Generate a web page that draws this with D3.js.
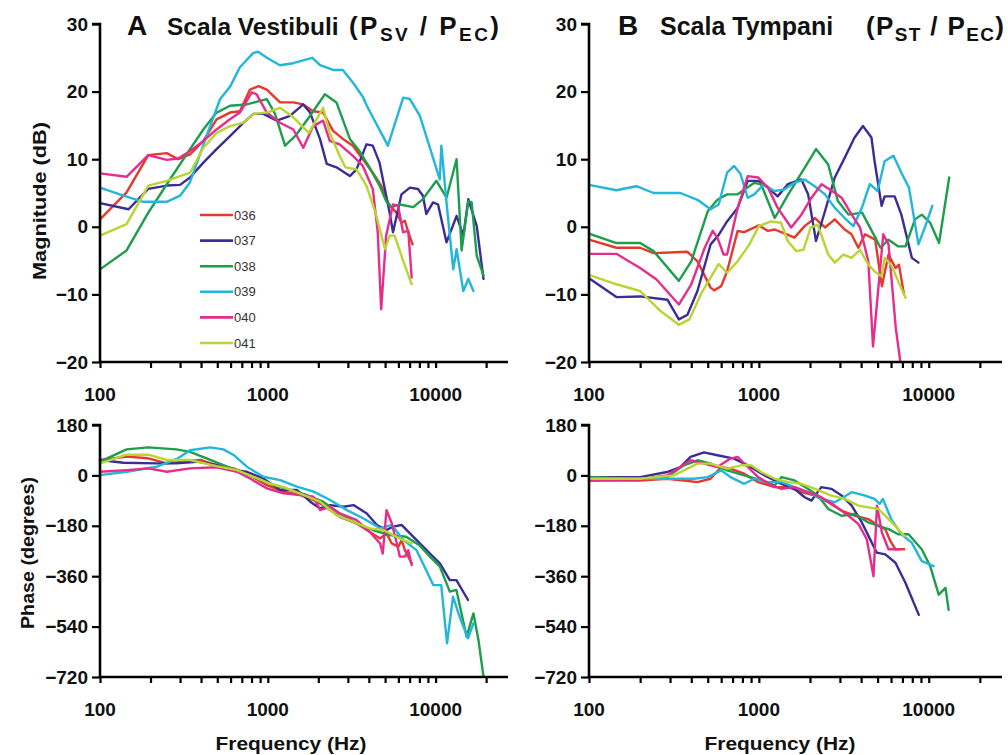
<!DOCTYPE html>
<html>
<head>
<meta charset="utf-8">
<script src="https://cdn.jsdelivr.net/npm/d3@7"></script>
<style>
  html, body { margin: 0; padding: 0; background: #fff; }
  svg { display: block; font-family: "Liberation Sans", Arial, Helvetica, sans-serif; }
</style>
</head>
<body>
<svg id="chart" width="1008" height="755"></svg>
<script>
// ---------------- DATA ----------------
const seriesIds = ["036", "037", "038", "039", "040", "041"];
const seriesColors = ["#e5392b", "#3b2d98", "#1d9e4c", "#22b6da", "#e52d8b", "#b9d433"];

const magTicks = [30, 20, 10, 0, -10, -20];
const phaseTicks = [180, 0, -180, -360, -540, -720];
const freqTickLabels = [100, 1000, 10000];
const freqMinorTicks = [200, 300, 400, 500, 600, 700, 800, 900, 2000, 3000, 4000, 5000, 6000, 7000, 8000, 9000, 20000];

// Panel A: Scala Vestibuli magnitude (dB)  [frequency Hz, value]
const svMag036 = [[100,1.1],[144,5.1],[194,10.6],[250,10.9],[293,10],[344,10.7],[413,12.7],[495,15.9],[595,16.9],[682,17.1],[783,20.3],[881,20.8],[986,20.3],[1183,18.4],[1420,18.4],[1626,18.1],[1864,17.1],[2136,16.9],[2450,14.2],[2806,13],[3215,12],[3685,10],[4222,8],[4738,6.1],[5195,3.6],[5443,2.9],[5836,2.1],[6260,0.6],[6560,0.9],[6873,-0.8],[7290,-2.6]];
const svMag037 = [[100,3.5],[148,2.6],[194,5.6],[250,6.1],[300,6.2],[344,7.3],[413,9.5],[495,11.5],[595,13.4],[717,15.4],[821,16.7],[942,16.7],[1131,15.7],[1355,16.4],[1626,18.1],[1785,16.9],[2045,13],[2245,9.3],[2565,8.8],[3083,7.5],[3377,8.5],[3870,12.2],[4222,12],[4630,9.5],[5318,2.1],[5574,-0.8],[6260,4.8],[7025,5.8],[7852,5.6],[8404,4.6],[8802,1.9],[9655,3.6],[10342,3.3],[11610,-2.3],[13335,1.6],[14623,-1.3],[15670,4.1],[17585,0.1],[19290,-7.7]];
const svMag038 = [[100,-6.3],[144,-3.5],[194,2.1],[261,7],[344,11.5],[413,14.4],[495,16.9],[595,17.9],[748,18.1],[986,18.9],[1104,16.7],[1267,12],[1454,13.4],[1785,16.4],[2189,19.6],[2565,18.4],[3083,13],[3515,11.2],[4035,8.8],[4630,6.1],[5074,3.8],[5443,2.9],[6117,3.3],[7360,2.9],[8404,4.1],[10113,6.8],[11610,4.3],[13335,10],[14290,-3.5],[15670,3.8],[16400,3.6],[17585,-4.3],[19290,-7.2]];
const svMag039 = [[100,5.8],[138,4.6],[181,3.7],[250,3.7],[300,4.6],[344,6.6],[432,13.5],[520,18.9],[595,20.7],[682,23.6],[817,25.7],[876,25.9],[987,25],[1180,23.9],[1415,24.2],[1840,25],[2050,23.9],[2450,23.2],[2800,23.2],[3220,21.3],[3690,19.2],[3890,17.9],[5195,12],[6410,19.1],[7025,18.9],[8060,16.4],[10590,7],[10820,12],[11610,3.6],[12740,-6.3],[13335,-3.3],[14623,-9.5],[15670,-7.7],[16790,-9.5]];
const svMag040 = [[100,7.9],[144,7.4],[194,10.6],[250,9.9],[293,10.1],[344,11.2],[413,12.7],[495,14.4],[595,15.9],[682,16.9],[801,19.9],[858,19.6],[986,16.9],[1183,15.4],[1420,14.4],[1626,11.7],[1864,14.9],[2136,15.7],[2340,12.7],[2680,12.2],[3215,10.5],[3685,9],[4222,5.6],[4520,-0.8],[4738,-12.2],[5074,-1.3],[5574,3.3],[5970,3.1],[6400,-0.8],[6873,-0.6],[7200,-7.5]];
const svMag041 = [[100,-1.3],[144,0.4],[194,6.1],[250,6.8],[344,8],[413,11.7],[495,13.9],[595,14.9],[717,15.4],[821,16.7],[986,16.9],[1183,17.6],[1420,16.2],[1755,13.9],[2136,17.6],[2340,13.9],[2680,10.5],[2900,8.8],[3377,8.5],[3870,6.1],[4380,2.1],[4991,-3.3],[5318,-1.3],[5700,-1.3],[6400,-5],[7200,-8.5]];

// Panel B: Scala Tympani magnitude (dB)
const stMag036 = [[100,-1.9],[145,-3.1],[200,-3.1],[240,-3.9],[300,-3.8],[380,-3.7],[435,-5.1],[520,-9],[545,-9.4],[600,-8.8],[650,-6.6],[750,-0.6],[820,-0.8],[1000,0.2],[1130,-0.6],[1240,-0.4],[1485,-1.2],[1620,-1.6],[1860,0.1],[2140,1.3],[2450,-0.1],[2800,1.1],[3200,-0.4],[3510,-1.1],[3850,-3.1],[4220,-1.1],[4840,-1.9],[5300,-8.8],[5800,-4.1],[6380,-6.1],[6680,-5.6],[7150,-10]];
const stMag037 = [[100,-7.6],[145,-10.4],[200,-10.3],[290,-10.8],[338,-13.7],[380,-13],[435,-9.5],[520,-2.6],[580,-1.2],[650,0.8],[750,2.8],[860,6.8],[990,6.8],[1130,5.8],[1290,4.5],[1480,6.3],[1780,7],[1950,4.8],[2170,-2.1],[2450,2.3],[2800,7.3],[3200,10.2],[3660,13.2],[4100,14.9],[4600,13.2],[4800,9.7],[5280,3.1],[5500,4.5],[6300,4.5],[6900,1.8],[7960,-4.6],[8700,-5.3]];
const stMag038 = [[100,-1],[145,-2.4],[200,-2.4],[240,-3.6],[338,-8],[400,-5.1],[500,2.3],[570,4],[650,4.8],[750,4.8],[940,6.5],[1030,6.3],[1240,1.3],[1490,4.8],[1860,8.7],[2170,11.5],[2560,9.2],[2920,3.8],[3370,1.8],[4050,2.1],[4850,-1.6],[5200,-3.1],[5800,-1.9],[6620,-2.9],[7300,-2.9],[8300,1.1],[9100,1.8],[10200,0.6],[11500,-2.4],[13200,7.3]];
const stMag039 = [[100,6.2],[145,5.4],[190,6],[240,5],[345,5],[435,4],[520,2.6],[580,3.3],[650,8],[715,9],[780,7.8],[860,4.3],[940,4.8],[1070,6.3],[1230,5.3],[1410,5.5],[1620,6.5],[1860,7],[2130,6],[2450,4.8],[2800,2.8],[3200,1.3],[3600,0.1],[4040,2.8],[4500,6.3],[5000,5.3],[5500,9.7],[6200,10.5],[6960,7.8],[7650,5.8],[8700,-2.6],[9550,0.1],[10500,3.1]];
const stMag040 = [[100,-4],[145,-4],[200,-6.1],[250,-7.8],[338,-11.5],[400,-8.5],[480,-3.1],[535,-0.6],[570,-1.6],[620,-4.1],[650,-4.1],[750,2.8],[860,7.5],[990,7.3],[1130,5.8],[1290,2.8],[1550,-0.1],[1780,1.8],[2040,4.3],[2340,6.3],[2700,5.3],[3070,4.3],[3520,1.8],[3940,-0.1],[4410,-5.1],[4700,-17.7],[5400,-1.1],[5800,-2.6],[6400,-15],[6800,-19.9]];
const stMag041 = [[100,-7.1],[145,-8.5],[200,-9.5],[265,-12.5],[338,-14.5],[390,-13.7],[455,-10],[580,-5.5],[650,-6.8],[750,-5.1],[880,-2.6],[1000,0.1],[1180,0.8],[1350,0.6],[1480,-2.1],[1660,-3.6],[1830,-3.4],[2020,-0.1],[2220,0.3],[2560,-4.1],[2800,-5.3],[3140,-4.1],[3510,-4.6],[3940,-3.4],[4410,-5.6],[4800,-6.6],[5280,-7.3],[5500,-4.6],[6000,-5.6],[6600,-8],[7300,-10.5]];

// Panel A: Scala Vestibuli phase (degrees)
const svPh036 = [[100,55],[144,67],[194,61],[250,43],[313,49],[395,55],[495,37],[625,25],[783,1],[986,-35],[1240,-58],[1560,-70],[1870,-88],[2135,-106],[2680,-148],[3370,-171],[4040,-201],[4670,-225],[5100,-207],[5480,-243],[6000,-255],[6270,-231],[6560,-267],[7200,-314]];
const svPh037 = [[100,55],[138,45],[218,43],[285,43],[377,49],[495,37],[625,19],[750,13],[940,-11],[1185,-52],[1490,-52],[1790,-94],[2050,-118],[2350,-106],[2830,-112],[3240,-106],[3890,-136],[4470,-177],[5100,-195],[5580,-183],[6270,-177],[7030,-207],[8060,-243],[9250,-279],[10600,-314],[12150,-374],[13300,-374],[15600,-445]];
const svPh038 = [[100,49],[144,93],[194,100],[285,93],[344,84],[432,61],[544,37],[682,13],[858,-11],[1080,-35],[1356,-52],[1700,-70],[2135,-94],[2680,-136],[3370,-171],[4230,-195],[5300,-213],[6670,-219],[8000,-249],[9250,-290],[10600,-326],[12150,-415],[13300,-409],[15300,-576],[16800,-493],[18000,-588],[19300,-719]];
const svPh039 = [[100,1],[144,13],[218,31],[290,60],[344,90],[453,100],[544,93],[625,73],[750,31],[940,-5],[1185,-17],[1490,-40],[1875,-58],[2350,-88],[2960,-124],[3720,-154],[4670,-189],[5480,-177],[6420,-231],[7700,-267],[9700,-392],[10800,-392],[11700,-600],[12700,-433],[13900,-505],[15600,-582],[16800,-528]];
const svPh040 = [[100,13],[144,19],[194,25],[250,13],[344,25],[495,29],[655,13],[783,-11],[986,-46],[1240,-64],[1560,-70],[1870,-76],[2050,-124],[2350,-112],[2680,-136],[3370,-159],[4040,-201],[4670,-243],[4840,-279],[5100,-124],[5480,-171],[5840,-237],[6120,-290],[6560,-290],[6870,-267],[7200,-320]];
const svPh041 = [[100,43],[144,74],[194,74],[250,55],[344,55],[495,33],[655,19],[820,-5],[1030,-29],[1300,-46],[1630,-70],[2050,-94],[2560,-142],[3215,-165],[4040,-189],[4890,-195],[5580,-213],[6400,-231],[7200,-243]];

// Panel B: Scala Tympani phase (degrees)
const stPh036 = [[100,-18],[200,-18],[288,-12],[362,-18],[435,-24],[520,-12],[600,30],[680,24],[820,6],[990,-24],[1240,-42],[1490,-42],[1780,-60],[2140,-72],[2560,-96],[3070,-126],[3660,-144],[4410,-156],[5060,-180],[5550,-192],[5940,-234],[6370,-264],[7170,-264]];
const stPh037 = [[100,-6],[200,-6],[288,12],[345,30],[396,66],[476,82],[570,72],[715,60],[860,36],[1080,0],[1360,-30],[1620,-48],[1860,-78],[2040,-90],[2330,-42],[2670,-48],[3070,-72],[3520,-108],[4040,-168],[4620,-240],[4950,-276],[5550,-282],[6370,-312],[7300,-384],[8740,-498]];
const stPh038 = [[100,-6],[200,-12],[288,-6],[362,36],[435,54],[520,42],[650,18],[820,0],[1030,-18],[1240,-36],[1360,-6],[1620,-18],[1940,-48],[2230,-72],[2560,-120],[3070,-144],[3660,-138],[4410,-168],[5060,-180],[5800,-192],[6610,-210],[7600,-210],[9100,-264],[10200,-324],[11450,-426],[12550,-402],[13100,-480]];
const stPh039 = [[100,-12],[200,-12],[316,-12],[415,-12],[500,-6],[600,18],[680,-6],[820,-30],[940,-12],[1130,-24],[1360,-24],[1620,-42],[1940,-60],[2330,-84],[2800,-96],[3520,-60],[4220,-72],[4800,-84],[5130,-102],[5370,-84],[6010,-156],[6900,-210],[7940,-240],[9100,-306],[10700,-324]];
const stPh040 = [[100,-18],[200,-14],[288,0],[345,30],[396,54],[476,42],[570,30],[680,60],[750,66],[860,30],[990,-6],[1190,-36],[1360,-48],[1620,-42],[1940,-60],[2330,-78],[2800,-108],[3370,-144],[3860,-174],[4320,-228],[4730,-360],[4960,-108],[5300,-204],[5800,-264],[6610,-264]];
const stPh041 = [[100,-12],[200,-12],[316,0],[380,24],[435,42],[520,42],[650,24],[785,36],[900,36],[1030,12],[1240,-12],[1490,-24],[1780,-30],[2140,-48],[2670,-72],[3200,-84],[3860,-108],[4410,-114],[5060,-120],[5800,-156],[6610,-192],[7170,-216]];

// ---------------- DRAWING ----------------
const svg = d3.select("#chart");
const FONT = '"Liberation Sans", Arial, Helvetica, sans-serif';

const panels = [
  { x0: 100, x1: 508, yTop: 24, yBot: 362, dom: [-20, 30], ticks: magTicks,
    series: [svMag036, svMag037, svMag038, svMag039, svMag040, svMag041] },
  { x0: 589, x1: 1002, yTop: 24, yBot: 362, dom: [-20, 30], ticks: magTicks,
    series: [stMag036, stMag037, stMag038, stMag039, stMag040, stMag041] },
  { x0: 100, x1: 508, yTop: 425, yBot: 677, dom: [-720, 180], ticks: phaseTicks,
    series: [svPh036, svPh037, svPh038, svPh039, svPh040, svPh041] },
  { x0: 589, x1: 1002, yTop: 425, yBot: 677, dom: [-720, 180], ticks: phaseTicks,
    series: [stPh036, stPh037, stPh038, stPh039, stPh040, stPh041] }
];

panels.forEach(p => {
  const x = d3.scaleLog().domain([100, 27000]).range([p.x0, p.x1]);
  const y = d3.scaleLinear().domain(p.dom).range([p.yBot, p.yTop]);
  const g = svg.append("g");

  // data lines
  const line = d3.line().x(d => x(d[0])).y(d => y(d[1]));
  p.series.forEach((s, i) => {
    g.append("path").datum(s)
      .attr("d", line)
      .attr("fill", "none")
      .attr("stroke", seriesColors[i])
      .attr("stroke-width", 2.4)
      .attr("stroke-linejoin", "round")
      .attr("stroke-linecap", "round");
  });

  // y axis
  const yAxis = d3.axisLeft(y).tickValues(p.ticks).tickSize(8).tickPadding(4).tickFormat(d3.format("d"));
  const ya = g.append("g").attr("transform", `translate(${p.x0},0)`).call(yAxis);
  ya.select(".domain").attr("stroke", "#000").attr("stroke-width", 2.6)
    .attr("d", `M-8,${p.yTop}H0V${p.yBot}`);
  ya.selectAll(".tick line").attr("stroke", "#000").attr("stroke-width", 2.2);
  ya.selectAll(".tick text").attr("font-family", FONT).attr("font-size", 19)
    .attr("font-weight", "bold").attr("fill", "#111");

  // x axis (minor ticks)
  const xa = g.append("g").attr("transform", `translate(0,${p.yBot})`)
    .call(d3.axisBottom(x).tickValues(freqMinorTicks.concat(freqTickLabels)).tickSize(6).tickFormat(""));
  xa.select(".domain").attr("stroke", "#000").attr("stroke-width", 2.6)
    .attr("d", `M${p.x0},0H${p.x1}`);
  xa.selectAll(".tick line").attr("stroke", "#000").attr("stroke-width", 2.2);

  // x tick labels
  g.selectAll("text.xlab").data(freqTickLabels).join("text")
    .attr("class", "xlab")
    .attr("x", d => x(d)).attr("y", p.yBot + 39)
    .attr("text-anchor", "middle")
    .attr("font-family", FONT).attr("font-size", 19).attr("font-weight", "bold")
    .attr("fill", "#111")
    .text(d => d);
});

// ---- titles ----
function txt(str, xPos, yPos, size) {
  return svg.append("text").attr("x", xPos).attr("y", yPos)
    .attr("font-family", FONT).attr("font-size", size).attr("font-weight", "bold")
    .attr("fill", "#111").text(str);
}
function ratioTitle(xPos, yPos, sub1, len) {
  const t = svg.append("text").attr("x", xPos).attr("y", yPos)
    .attr("font-family", FONT).attr("font-size", 26).attr("font-weight", "bold")
    .attr("fill", "#111")
    .attr("textLength", len).attr("lengthAdjust", "spacing");
  t.append("tspan").text("(P");
  t.append("tspan").attr("font-size", 19).attr("dy", 6).text(sub1);
  t.append("tspan").attr("dy", -6).text(" / P");
  t.append("tspan").attr("font-size", 19).attr("dy", 6).text("EC");
  t.append("tspan").attr("dy", -6).text(")");
}
txt("A", 127, 35, 28);
txt("Scala Vestibuli", 167, 35, 24.5);
ratioTitle(349, 35, "SV", 150);
txt("B", 618, 35, 28);
txt("Scala Tympani", 660, 35, 25);
ratioTitle(866, 35, "ST", 138);

// ---- axis titles ----
function vtitle(str, cx, cy, len) {
  svg.append("text")
    .attr("transform", `translate(${cx},${cy}) rotate(-90)`)
    .attr("text-anchor", "middle").attr("dominant-baseline", "central")
    .attr("font-family", FONT).attr("font-size", 19).attr("font-weight", "bold")
    .attr("fill", "#111")
    .attr("textLength", len).attr("lengthAdjust", "spacingAndGlyphs")
    .text(str);
}
vtitle("Magnitude (dB)", 39, 201, 158);
vtitle("Phase (degrees)", 27, 553, 152);

[291, 780].forEach(cx => {
  svg.append("text").attr("x", cx).attr("y", 750)
    .attr("text-anchor", "middle")
    .attr("font-family", FONT).attr("font-size", 19).attr("font-weight", "bold")
    .attr("fill", "#111")
    .attr("textLength", 151).attr("lengthAdjust", "spacingAndGlyphs")
    .text("Frequency (Hz)");
});

// ---- legend ----
const legendY = d3.scalePoint().domain(seriesIds).range([215, 343]);
const leg = svg.append("g");
seriesIds.forEach((id, i) => {
  leg.append("line")
    .attr("x1", 200).attr("x2", 233)
    .attr("y1", legendY(id)).attr("y2", legendY(id))
    .attr("stroke", seriesColors[i]).attr("stroke-width", 2.6);
  leg.append("text")
    .attr("x", 234).attr("y", legendY(id))
    .attr("dominant-baseline", "central")
    .attr("font-family", FONT).attr("font-size", 13)
    .attr("fill", "#333")
    .text(id);
});
</script>
</body>
</html>
